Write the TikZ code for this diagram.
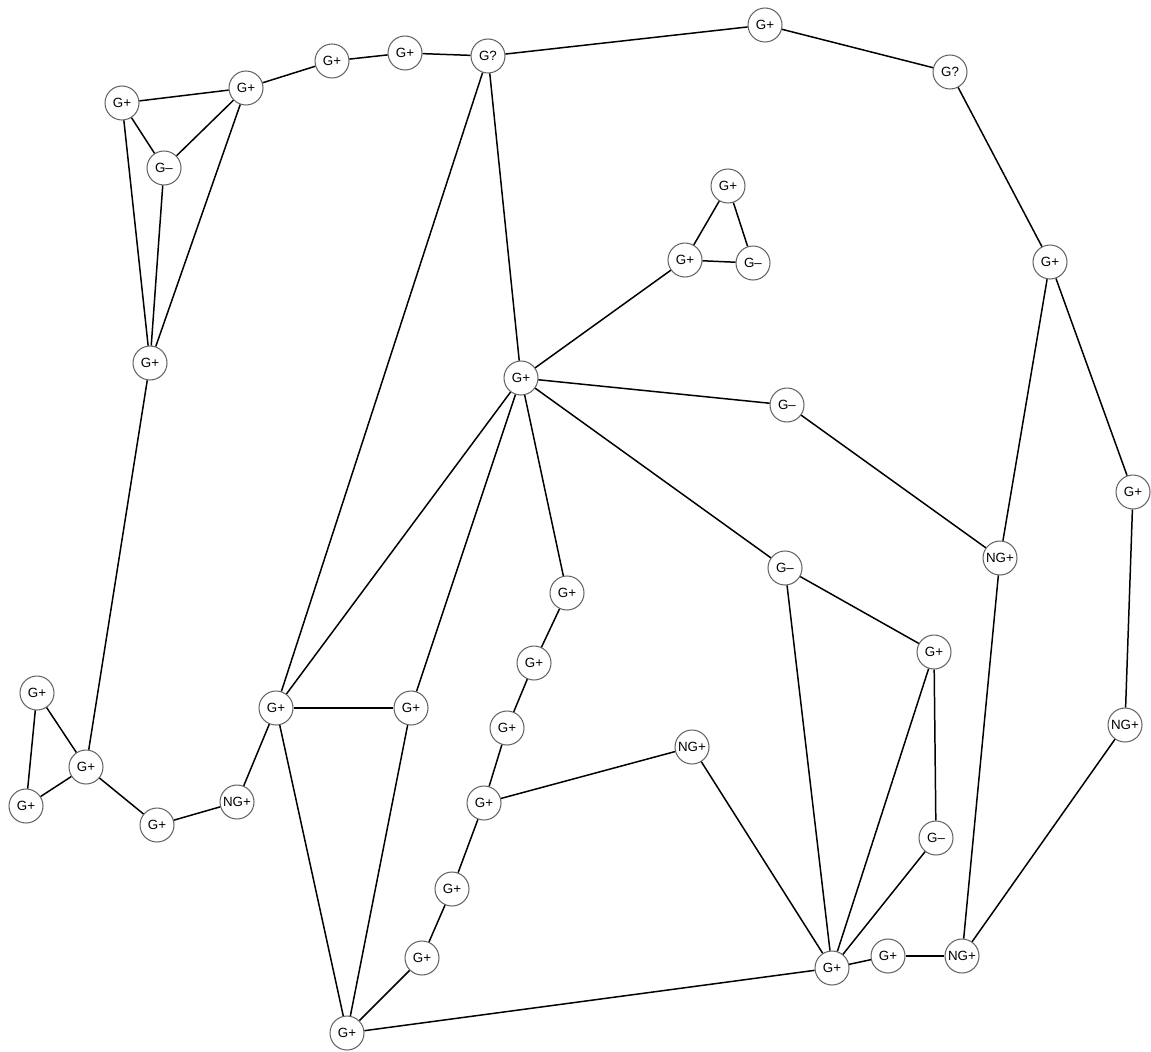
\documentclass[tikz,border=0pt]{standalone}
\usepackage{fontspec}
\setmainfont{Liberation Sans}
\tikzset{
  gnode/.style={circle, draw=black!60, line width=0.6pt, fill=white,
    minimum size=0.68cm, inner sep=0pt, font=\fontsize{7.6}{8}\selectfont},
  glink/.style={line width=0.85pt}
}

\begin{document}
\begin{tikzpicture}[x=0.02cm,y=-0.02cm]
  \useasboundingbox (0,0) rectangle (1151,1051);
  % upper left cluster
  \node[gnode] (a1) at (122,103) {G+};
  \node[gnode] (a2) at (246,88) {G+};
  \node[gnode] (a3) at (164,168) {G–};
  \node[gnode] (a4) at (150,363) {G+};
  \node[gnode] (b1) at (332,61) {G+};
  \node[gnode] (b2) at (405,53) {G+};
  \node[gnode] (q1) at (488,56) {G?};
  % top and right rim
  \node[gnode] (t1) at (765,25) {G+};
  \node[gnode] (q2) at (950,72) {G?};
  \node[gnode] (r1) at (1050,262) {G+};
  \node[gnode] (r2) at (1133,492) {G+};
  \node[gnode] (r3) at (1125,725) {NG+};
  \node[gnode] (r4) at (1000,558) {NG+};
  % small triangle
  \node[gnode] (c1) at (728,186) {G+};
  \node[gnode] (c2) at (685,260) {G+};
  \node[gnode] (c3) at (753,263) {G–};
  % hub and its right side
  \node[gnode] (hub) at (521,378) {G+};
  \node[gnode] (m1) at (787,405) {G–};
  \node[gnode] (m2) at (785,568) {G–};
  \node[gnode] (m3) at (934,652) {G+};
  \node[gnode] (m4) at (936,838) {G–};
  \node[gnode] (d1) at (832,968) {G+};
  \node[gnode] (d2) at (888,956) {G+};
  \node[gnode] (d3) at (962,956) {NG+};
  % middle chain
  \node[gnode] (s1) at (567,593) {G+};
  \node[gnode] (s2) at (534,663) {G+};
  \node[gnode] (s3) at (507,728) {G+};
  \node[gnode] (s4) at (484,803) {G+};
  \node[gnode] (s5) at (452,889) {G+};
  \node[gnode] (s6) at (422,958) {G+};
  \node[gnode] (ng) at (692,747) {NG+};
  % lower left
  \node[gnode] (e1) at (276,708) {G+};
  \node[gnode] (e2) at (411,708) {G+};
  \node[gnode] (e3) at (347,1033) {G+};
  \node[gnode] (l1) at (37,693) {G+};
  \node[gnode] (l2) at (86,767) {G+};
  \node[gnode] (l3) at (26,806) {G+};
  \node[gnode] (l4) at (157,825) {G+};
  \node[gnode] (l5) at (237,802) {NG+};

  % links
  \foreach \u/\v in {a1/a2,a1/a3,a1/a4,a2/a3,a2/a4,a3/a4,a2/b1,b1/b2,b2/q1,
      q1/t1,t1/q2,q2/r1,r1/r2,r2/r3,r1/r4,q1/e1,q1/hub,
      c1/c2,c1/c3,c2/c3,c2/hub,hub/m1,m1/r4,hub/m2,m2/m3,m2/d1,m3/d1,
      m3/m4,m4/d1,hub/s1,hub/e1,hub/e2,s1/s2,s2/s3,s3/s4,s4/ng,s4/s5,
      s5/s6,s6/e3,ng/d1,e1/e2,e1/e3,e2/e3,e1/l5,e3/d1,d1/d2,d2/d3,
      d3/r4,d3/r3,a4/l2,l1/l2,l1/l3,l3/l2,l2/l4,l4/l5}
    \draw[glink] (\u) -- (\v);
\end{tikzpicture}
\end{document}
